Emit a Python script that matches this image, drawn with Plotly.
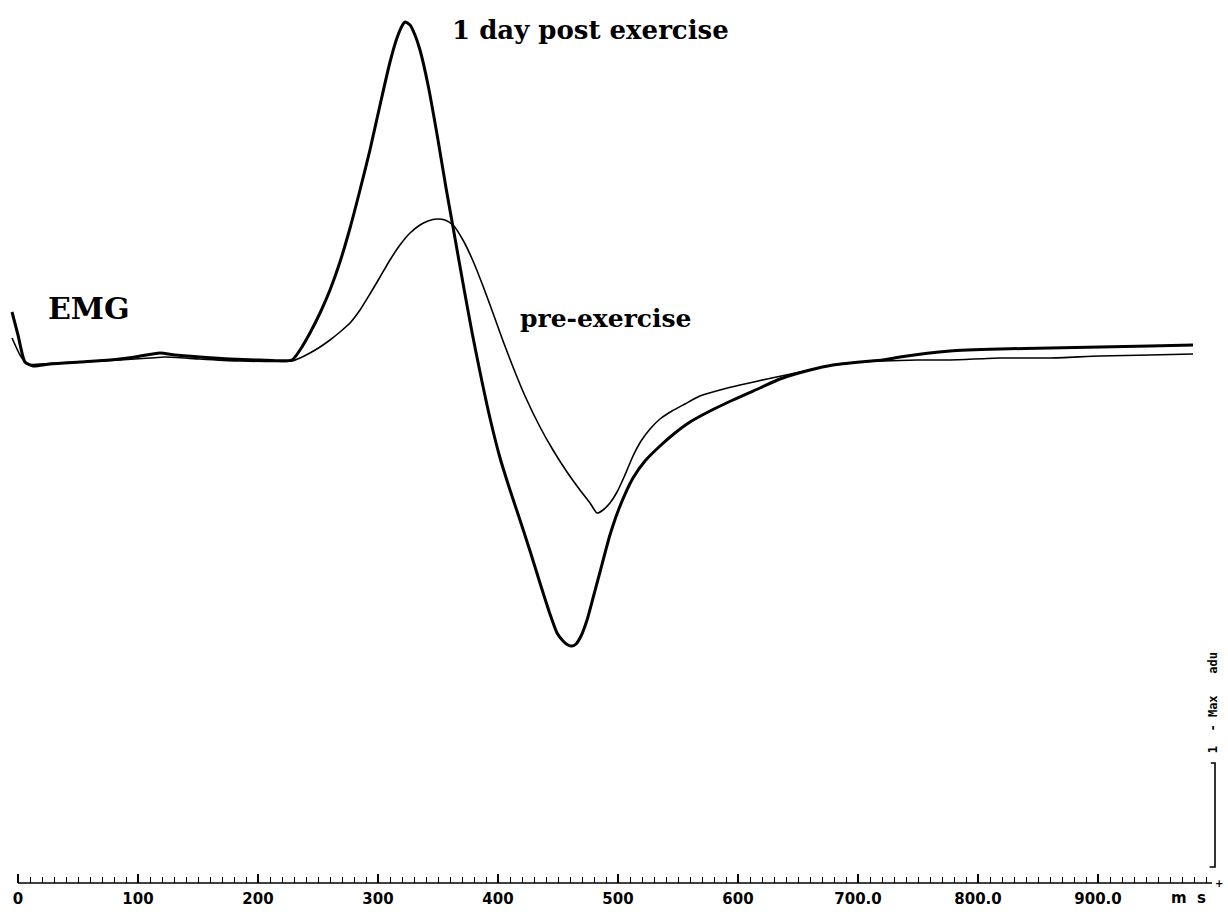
import plotly.graph_objects as go

# Evoked EMG response: time in ms, amplitude in arbitrary units
post_time = [-5.0, 0, 5.8, 12.5, 26.7, 51.7, 76.7, 97.5, 118.3, 130.8, 151.7, 176.7, 201.7, 228.3,
             235.0, 243.3, 251.7, 260.0, 268.3, 276.7, 285.0, 293.3, 301.7, 310.0, 315.8, 320.0,
             322.5, 326.7, 330.8, 335.0, 341.7, 350.0, 356.7, 362.5, 370.8, 378.3, 385.0, 393.3,
             401.7, 410.0, 418.3, 426.7, 435.0, 443.3, 449.2, 454.2, 458.3, 461.7, 465.0, 469.2,
             474.2, 479.2, 485.0, 493.3, 501.7, 512.5, 522.5, 535.0, 547.5, 560.0, 576.7, 595.8,
             618.3, 635.0, 660.0, 679.2, 701.7, 720.8, 735.0, 776.7, 818.3, 860.0, 901.7, 943.3, 979.2]
post_amp = [0.48, 0.25, -0.02, -0.06, -0.04, -0.02, 0.00, 0.03, 0.07, 0.05, 0.03, 0.01, 0.00, 0.00,
            0.10, 0.27, 0.47, 0.70, 0.98, 1.32, 1.70, 2.10, 2.55, 2.98, 3.22, 3.34,
            3.38, 3.35, 3.25, 3.10, 2.75, 2.20, 1.72, 1.33, 0.77, 0.28, -0.12, -0.58,
            -0.98, -1.30, -1.60, -1.91, -2.23, -2.54, -2.73, -2.81, -2.85, -2.86, -2.84, -2.76,
            -2.60, -2.38, -2.12, -1.75, -1.46, -1.18, -1.01, -0.86, -0.73, -0.62, -0.51, -0.40,
            -0.28, -0.19, -0.10, -0.05, -0.02, 0.00, 0.03, 0.09, 0.11, 0.12, 0.13, 0.14, 0.15]

pre_time = [-5.0, 1.7, 7.5, 18.3, 51.7, 85.0, 110.0, 122.5, 151.7, 185.0, 228.3,
            235.0, 243.3, 251.7, 260.0, 268.3, 276.7, 285.0, 293.3, 301.7, 310.0, 318.3, 326.7,
            335.0, 341.7, 349.2, 355.8, 362.5, 370.8, 379.2, 387.5, 395.8, 404.2, 412.5, 422.5,
            435.0, 445.8, 457.5, 468.3, 476.7, 482.5, 487.5, 493.3, 499.2, 505.8, 512.5, 519.2,
            526.7, 535.0, 545.0, 555.8, 568.3, 585.0, 601.7, 624.2, 651.7, 679.2, 701.7, 720.8,
            749.2, 776.7, 818.3, 860.0, 901.7, 943.3, 979.2]
pre_amp = [0.22, 0.05, -0.04, -0.04, -0.02, 0.00, 0.02, 0.03, 0.01, -0.01, -0.01,
           0.02, 0.07, 0.13, 0.20, 0.28, 0.37, 0.50, 0.66, 0.83, 1.00, 1.15, 1.27,
           1.35, 1.39, 1.41, 1.40, 1.35, 1.20, 0.99, 0.74, 0.47, 0.19, -0.07, -0.36,
           -0.67, -0.90, -1.12, -1.30, -1.43, -1.53, -1.50, -1.43, -1.32, -1.15, -0.96, -0.81,
           -0.69, -0.59, -0.51, -0.44, -0.36, -0.30, -0.25, -0.19, -0.12, -0.05, -0.02, -0.01,
           0.00, 0.00, 0.02, 0.02, 0.04, 0.05, 0.06]

major_ticks = [0, 100, 200, 300, 400, 500, 600, 700, 800, 900]
major_labels = ["0", "100", "200", "300", "400", "500", "600", "700.0", "800.0", "900.0"]
minor_ticks = [t for t in range(10, 1000, 10) if t % 100 != 0]

axis_end = 995          # ms, end of the time ruler
scale_x = 997.5         # ms, calibration bar position
scale_top = -4.03       # amplitude units
scale_bottom = -5.07

serif = "DejaVu Serif"
sans = "DejaVu Sans"

fig = go.Figure()
fig.add_trace(go.Scatter(x=pre_time, y=pre_amp, mode="lines",
                         line=dict(color="black", width=1.6, shape="spline", smoothing=0.6),
                         name="pre-exercise"))
fig.add_trace(go.Scatter(x=post_time, y=post_amp, mode="lines",
                         line=dict(color="black", width=3, shape="spline", smoothing=0.6),
                         name="1 day post exercise"))

# time ruler line
fig.add_shape(type="line", xref="x", yref="paper", x0=0, x1=axis_end, y0=0, y1=0,
              line=dict(color="black", width=1.6))
# calibration bar
fig.add_shape(type="path", xref="x", yref="y",
              path=f"M {scale_x-3.5},{scale_top} L {scale_x},{scale_top} L {scale_x},{scale_bottom} "
                   f"L {scale_x-4.5},{scale_bottom}",
              line=dict(color="black", width=1.6))

fig.add_annotation(x=476.7, y=3.30, text="1 day post exercise", showarrow=False,
                   font=dict(family=serif, size=26, color="black", weight="bold"))
fig.add_annotation(x=59, y=0.52, text="EMG", showarrow=False,
                   font=dict(family=serif, size=30, color="black", weight="bold"))
fig.add_annotation(x=490, y=0.42, text="pre-exercise", showarrow=False,
                   font=dict(family=serif, size=25, color="black", weight="bold"))
fig.add_annotation(x=975, xref="x", y=-0.017, yref="paper", yanchor="middle",
                   text="m  s", showarrow=False,
                   font=dict(family=sans, size=15, color="black", weight="bold"))
fig.add_annotation(x=1000.8, y=-5.23, text="+", showarrow=False,
                   font=dict(family=sans, size=10, color="black", weight="bold"))
fig.add_annotation(x=996, y=-3.43, text="1  - Max   adu", showarrow=False, textangle=-90,
                   font=dict(family="DejaVu Sans Mono", size=12, color="black", weight="bold"))

fig.update_layout(
    width=1228, height=918,
    margin=dict(l=0, r=0, t=0, b=35),
    paper_bgcolor="white", plot_bgcolor="white",
    showlegend=False,
    xaxis=dict(range=[-15, 1008.33], showgrid=False, zeroline=False, showline=False,
               tickmode="array", tickvals=major_ticks, ticktext=major_labels,
               ticks="inside", ticklen=9, tickwidth=1.5, tickcolor="black",
               ticklabelstandoff=5,
               tickfont=dict(family=sans, size=15, color="black", weight="bold"),
               minor=dict(tickmode="array", tickvals=minor_ticks, ticks="inside",
                          ticklen=6, tickwidth=1.3, tickcolor="black")),
    yaxis=dict(range=[-5.23, 3.6], visible=False),
)

fig.write_html("out.html")
